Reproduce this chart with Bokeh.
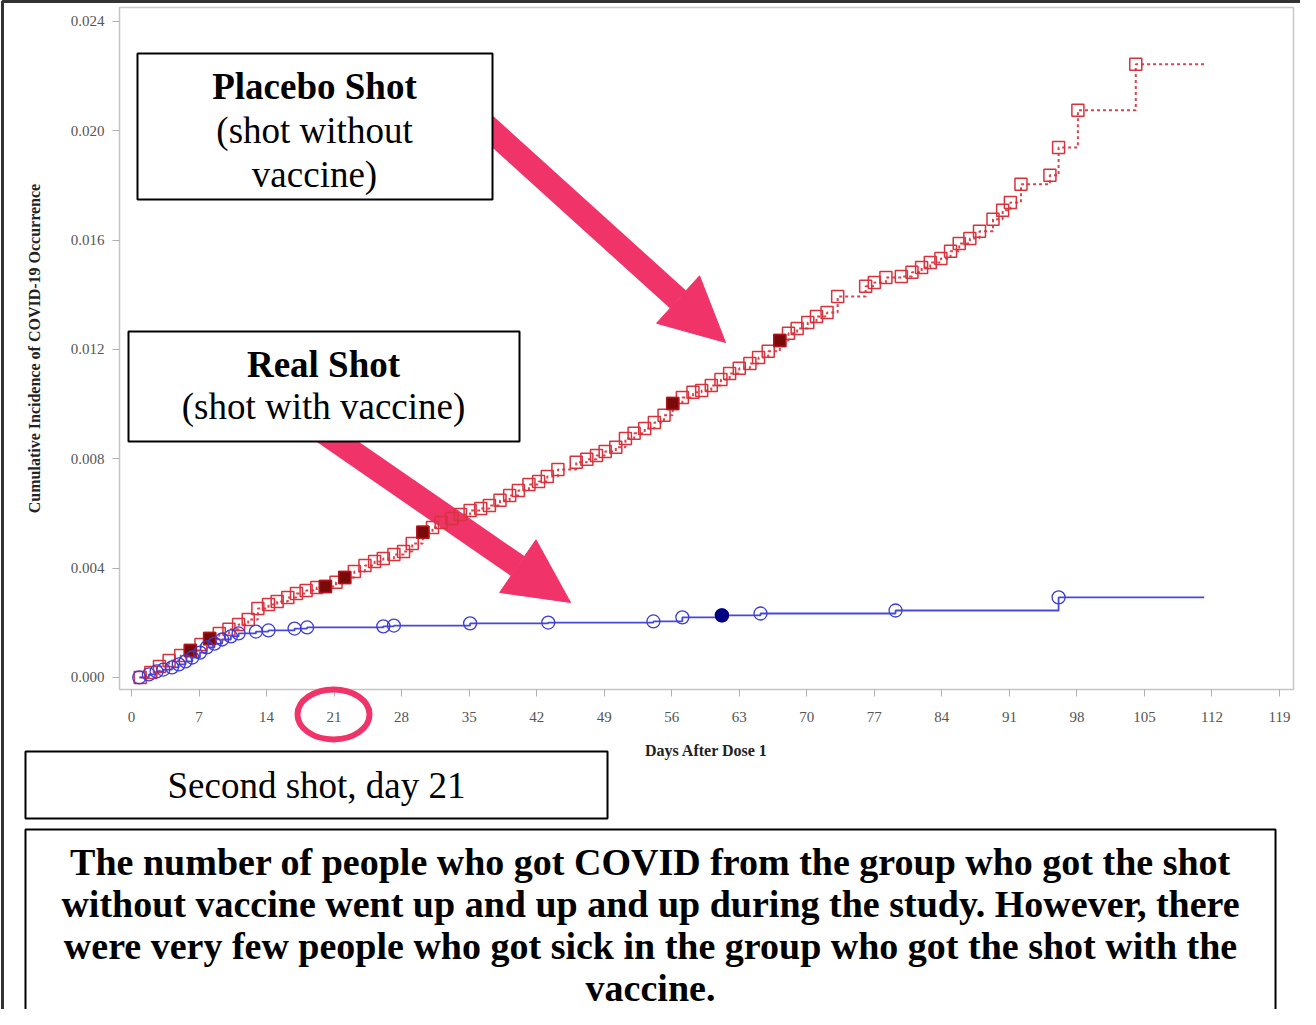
from bokeh.plotting import figure
from bokeh.core.properties import value
from bokeh.models import (Range1d, FixedTicker, NumeralTickFormatter, BoxAnnotation,
                          Label, Arrow, NormalHead)
from bokeh.embed import file_html
from bokeh.resources import INLINE

# ---------------- data ----------------
placebo_days = [0.9, 2.0, 2.9, 3.9, 5.1, 6.1, 7.2, 8.1, 9.1, 10.1, 11.1, 12.1, 13.1, 14.2,
                15.1, 16.2, 17.1, 18.1, 19.2, 20.1, 21.2, 22.1, 23.1, 24.2, 25.2, 26.1,
                27.2, 28.2, 29.1, 30.2, 31.2, 32.1, 33.2, 34.1, 35.1, 36.2, 37.1, 38.2,
                39.2, 40.1, 41.2, 42.2, 43.1, 44.2, 46.1, 47.2, 48.2, 49.1, 50.2, 51.2,
                52.1, 53.2, 54.2, 55.2, 56.1, 57.1, 58.2, 59.1, 60.1, 61.1, 62.0, 63.0,
                64.1, 65.0, 66.0, 67.2, 68.1, 69.0, 70.1, 71.0, 72.1, 73.2, 76.1, 77.0,
                78.2, 79.8, 80.9, 81.9, 82.8, 83.9, 84.9, 85.8, 86.9, 87.9, 89.3, 90.3,
                91.1, 92.2, 95.2, 96.1, 98.1, 104.1]
placebo_cum = [0.00000, 0.00018, 0.00040, 0.00062, 0.00080, 0.00099, 0.00121, 0.00143,
               0.00161, 0.00176, 0.00194, 0.00212, 0.00252, 0.00267, 0.00278, 0.00293,
               0.00307, 0.00318, 0.00329, 0.00333, 0.00348, 0.00366, 0.00388, 0.00410,
               0.00424, 0.00435, 0.00450, 0.00461, 0.00490, 0.00531, 0.00549, 0.00567,
               0.00582, 0.00596, 0.00611, 0.00618, 0.00629, 0.00648, 0.00666, 0.00684,
               0.00706, 0.00717, 0.00735, 0.00761, 0.00787, 0.00798, 0.00812, 0.00827,
               0.00842, 0.00874, 0.00893, 0.00911, 0.00933, 0.00959, 0.01002, 0.01024,
               0.01043, 0.01050, 0.01068, 0.01090, 0.01112, 0.01131, 0.01149, 0.01171,
               0.01193, 0.01233, 0.01259, 0.01277, 0.01299, 0.01321, 0.01335, 0.01394,
               0.01431, 0.01445, 0.01463, 0.01467, 0.01482, 0.01500, 0.01518, 0.01533,
               0.01559, 0.01588, 0.01606, 0.01632, 0.01676, 0.01709, 0.01738, 0.01804,
               0.01837, 0.01939, 0.02075, 0.02243]
placebo_filled_days = [6.1, 8.1, 20.1, 22.1, 30.2, 56.1, 67.2]
placebo_filled_cum = [0.00099, 0.00143, 0.00333, 0.00366, 0.00531, 0.01002, 0.01233]

vaccine_days = [0.8, 1.8, 2.6, 3.3, 4.2, 4.9, 5.6, 6.3, 7.1, 7.8, 8.6, 9.4, 10.3, 11.1,
                12.9, 14.2, 16.9, 18.2, 26.1, 27.2, 35.1, 43.2, 54.1, 57.1, 61.2, 65.2,
                79.2, 96.1]
vaccine_cum = [0.00000, 0.00011, 0.00022, 0.00029, 0.00037, 0.00048, 0.00059, 0.00073,
               0.00091, 0.00110, 0.00124, 0.00139, 0.00150, 0.00161, 0.00168, 0.00172,
               0.00179, 0.00183, 0.00187, 0.00190, 0.00198, 0.00201, 0.00205, 0.00220,
               0.00227, 0.00234, 0.00245, 0.00293]
vaccine_filled_days = [61.2]
vaccine_filled_cum = [0.00227]

end_day = 111.2
x_ticks = [0, 7, 14, 21, 28, 35, 42, 49, 56, 63, 70, 77, 84, 91, 98, 105, 112, 119]
y_ticks = [0.000, 0.004, 0.008, 0.012, 0.016, 0.020, 0.024]

x_label = "Days After Dose 1"
y_label = "Cumulative Incidence of COVID-19 Occurrence"
placebo_title = "Placebo Shot"
placebo_sub = ["(shot without", "vaccine)"]
real_title = "Real Shot"
real_sub = "(shot with vaccine)"
second_shot = "Second shot, day 21"
summary_lines = ["The number of people who got COVID from the group who got the shot",
                 "without vaccine went up and up and up during the study. However, there",
                 "were very few people who got sick in the group who got the shot with the",
                 "vaccine."]

# ---------------- main figure ----------------
W, H = 1300, 1009
p = figure(width=W, height=H, output_backend="svg", toolbar_location=None,
           x_range=Range1d(-1.244, 120.45), y_range=Range1d(-0.00044, 0.02451),
           min_border_left=119, min_border_right=7, min_border_top=7, min_border_bottom=320,
           background_fill_color="white", border_fill_color="white")
p.grid.visible = False
p.outline_line_color = "#c8c8c8"
p.outline_line_width = 1.5

for ax in (p.xaxis[0], p.yaxis[0]):
    ax.axis_line_color = "#c4c4c4"
    ax.major_tick_line_color = "#b0b0b0"
    ax.minor_tick_line_color = None
    ax.major_tick_out = 7
    ax.major_tick_in = 0
    ax.major_label_text_font = "Liberation Serif"
    ax.major_label_text_font_size = "15px"
    ax.major_label_text_color = "#555555"
    ax.axis_label_text_font = "Liberation Serif"
    ax.axis_label_text_font_size = "16px"
    ax.axis_label_text_font_style = "bold"
    ax.axis_label_text_color = "#222222"

p.xaxis.ticker = FixedTicker(ticks=x_ticks)
p.yaxis.ticker = FixedTicker(ticks=y_ticks)
p.yaxis.formatter = NumeralTickFormatter(format="0.000")
p.xaxis.axis_label = x_label
p.yaxis.axis_label = y_label
p.xaxis.major_label_standoff = 15
p.yaxis.major_label_standoff = 8
p.xaxis.axis_label_standoff = 17
p.yaxis.axis_label_standoff = 25

# helpers: reference-pixel positions -> data coordinates (for annotations only)
PXD = 9.647
PXV = 27333.0
def dx(px):
    return (px - 139.0) / PXD

def dy(py):
    return (685.0 - py) / PXV

pink = "#f03368"

# arrows (under the data)
for (x0, y0, x1, y1) in [(470, 112, 733, 350), (320, 432, 578, 610)]:
    p.add_layout(Arrow(x_start=dx(x0), y_start=dy(y0), x_end=dx(x1), y_end=dy(y1),
                       line_color=pink, line_width=24, level="underlay",
                       end=NormalHead(size=64, fill_color=pink, line_color=pink, line_width=1)))

# step lines
px_line = placebo_days + [end_day]
py_line = placebo_cum + [placebo_cum[-1]]
p.step(px_line, py_line, mode="after", line_color="#d9434f", line_width=2, line_dash="3 3")
vx_line = vaccine_days + [end_day]
vy_line = vaccine_cum + [vaccine_cum[-1]]
p.step(vx_line, vy_line, mode="after", line_color="#4848d8", line_width=1.8)

# markers
p.scatter(placebo_days, placebo_cum, marker="square", size=12, fill_alpha=0,
          line_color="#d8333c", line_width=1.5)
p.scatter(placebo_filled_days, placebo_filled_cum, marker="square", size=12,
          fill_color="#7a0a0a", line_color="#b0151c", line_width=1.5)
p.scatter(vaccine_days, vaccine_cum, marker="circle", size=13, fill_alpha=0,
          line_color="#3c3cd4", line_width=1.3)
p.scatter(vaccine_filled_days, vaccine_filled_cum, marker="circle", size=13,
          fill_color="#000080", line_color="#000080", line_width=1.3)

# boxes with text inside the plot area
def box(l, t, r, b):
    p.add_layout(BoxAnnotation(left=dx(l), right=dx(r), top=dy(t), bottom=dy(b),
                               fill_color="white", fill_alpha=1.0, line_color="black",
                               line_width=2, line_alpha=1.0))

def text(x, y, s, size, bold=False):
    p.add_layout(Label(x=dx(x), y=dy(y), text=s, text_font="Liberation Serif",
                       text_font_size=size, text_font_style="bold" if bold else "normal",
                       text_align="center", text_baseline="middle", text_color="black"))

box(145, 61, 500, 207)
text(322, 94, placebo_title, "37px", True)
text(322, 138, placebo_sub[0], "37px")
text(322, 182, placebo_sub[1], "37px")

box(136, 339, 527, 449)
text(331, 372, real_title, "37px", True)
text(331, 414, real_sub, "37px")

# ---------------- items outside the plot area (overlay level glyphs) ----------------
OV = "overlay"
# ring around tick "21"
p.ellipse(x=[dx(341)], y=[dy(722)], width=[72 / PXD], height=[50 / PXV], fill_alpha=0,
          line_color=pink, line_width=6, level=OV)

# "Second shot" box
p.quad(left=[dx(33)], right=[dx(615)], top=[dy(759)], bottom=[dy(826)], fill_color="white",
       line_color="black", line_width=2, level=OV)
p.text(x=[dx(324)], y=[dy(793)], text=[second_shot], text_font=value("Liberation Serif"),
       text_font_size="37px", text_align="center", text_baseline="middle",
       text_color="black", level=OV)

# summary box
p.quad(left=[dx(33)], right=[dx(1283)], top=[dy(837)], bottom=[dy(1060)],
       fill_color="white", line_color="black", line_width=2, level=OV)
p.text(x=[dx(658)] * len(summary_lines),
       y=[dy(870 + i * 41.7) for i in range(len(summary_lines))],
       text=summary_lines, text_font=value("Liberation Serif"), text_font_size="38px",
       text_font_style="bold", text_align="center", text_baseline="middle",
       text_color="black", level=OV)

# outer page border (left / top)
p.quad(left=[dx(10)], right=[dx(1400)], top=[dy(9)], bottom=[dy(1100)], fill_alpha=0,
       line_color="#333333", line_width=3, level=OV)

open("out.html", "w").write(file_html(p, INLINE))
